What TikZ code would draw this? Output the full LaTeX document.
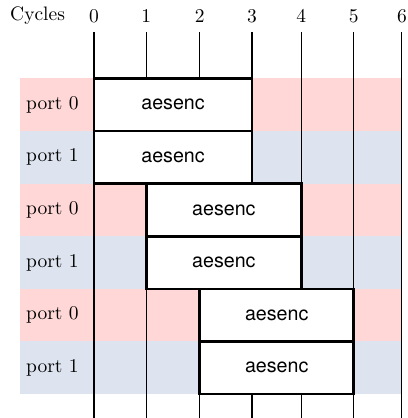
\documentclass[tikz,border=0pt]{standalone}
\usepackage{fontspec}
\setsansfont{TeX Gyre Heros}
\definecolor{portred}{RGB}{255,215,215}
\definecolor{portblue}{RGB}{221,228,239}
\begin{document}
\begin{tikzpicture}[
            x=1cm, y=1.025cm,
            every node/.style={font=\fontsize{10.8}{13}\selectfont},
            cycline/.style={draw, line width=0.65pt},
            opbox/.style={draw, line width=1.4pt, fill=white},
            oplabel/.style={font=\sffamily\fontsize{10.9}{13}\selectfont}
            ]
        \useasboundingbox (-1.832,0) rectangle (6.101,-7.947);
        % port rows
        \foreach \r/\p/\c in {0/0/portred,1/1/portblue,2/0/portred,3/1/portblue,4/0/portred,5/1/portblue} {
            \fill[\c] (-1.433,-1.492-\r) rectangle (6,-2.492-\r);
            \node (port\r) at (-0.81,-1.992-\r) {port \p};
        }
        % cycles
        \node (cycles) at (-1.10,-0.30) {Cycles};
        \foreach \i/\x in {0/0,1/1.02,2/2.06,3/3.08,4/4.04,5/5.06,6/6} {
            \node (c\i) at (\x,-0.30) {\i};
            \coordinate (top\i) at (\x,-0.61);
            \coordinate (bot\i) at (\x,-7.95);
            \draw[cycline] (top\i) -- (bot\i);
        }
        % instructions
        \foreach \r/\a/\b in {0/0/3.08,1/0/3.08,2/1.02/4.04,3/1.02/4.04,4/2.06/5.06,5/2.06/5.06} {
            \draw[opbox] (\a,-1.492-\r) rectangle (\b,-2.492-\r)
                node[midway, oplabel] (op\r) {aesenc};
        }
        \end{tikzpicture}
\end{document}
